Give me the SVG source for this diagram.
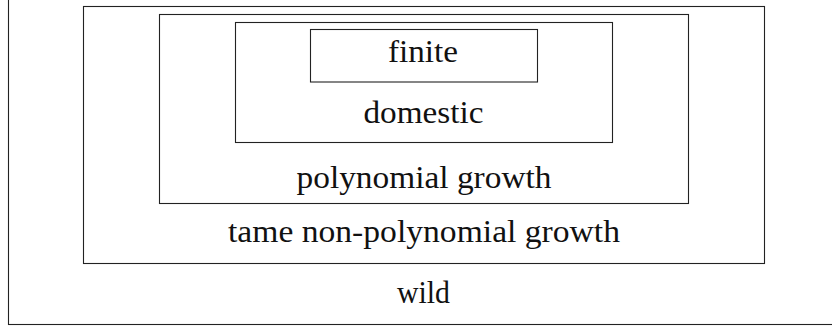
<svg xmlns="http://www.w3.org/2000/svg" width="832" height="327" viewBox="0 0 832 327">
<style>
rect{fill:none;stroke:#222;stroke-width:1.1}
text{font-family:"Liberation Serif","Times New Roman",serif;font-size:32px;fill:#111;text-anchor:middle}
</style>
<rect width="832" height="327" fill="#fff" style="stroke:none;fill:#fff"/>
<g id="wild"><rect x="8.5" y="-2" width="830" height="326.5"/><text x="423.5" y="303" textLength="53" lengthAdjust="spacingAndGlyphs">wild</text></g>
<g id="tame"><rect x="83.5" y="6.5" width="681" height="257"/><text x="424" y="241.5" textLength="392" lengthAdjust="spacingAndGlyphs">tame non-polynomial growth</text></g>
<g id="polynomial"><rect x="159.5" y="14.5" width="529" height="189"/><text x="424" y="188" textLength="255" lengthAdjust="spacingAndGlyphs">polynomial growth</text></g>
<g id="domestic"><rect x="235.5" y="22.5" width="377" height="120"/><text x="423.5" y="123" textLength="120" lengthAdjust="spacingAndGlyphs">domestic</text></g>
<g id="finite"><rect x="310.5" y="29.5" width="227" height="52.5"/><text x="423" y="62" textLength="70" lengthAdjust="spacingAndGlyphs">finite</text></g>
<g id="connectors"/>
</svg>
